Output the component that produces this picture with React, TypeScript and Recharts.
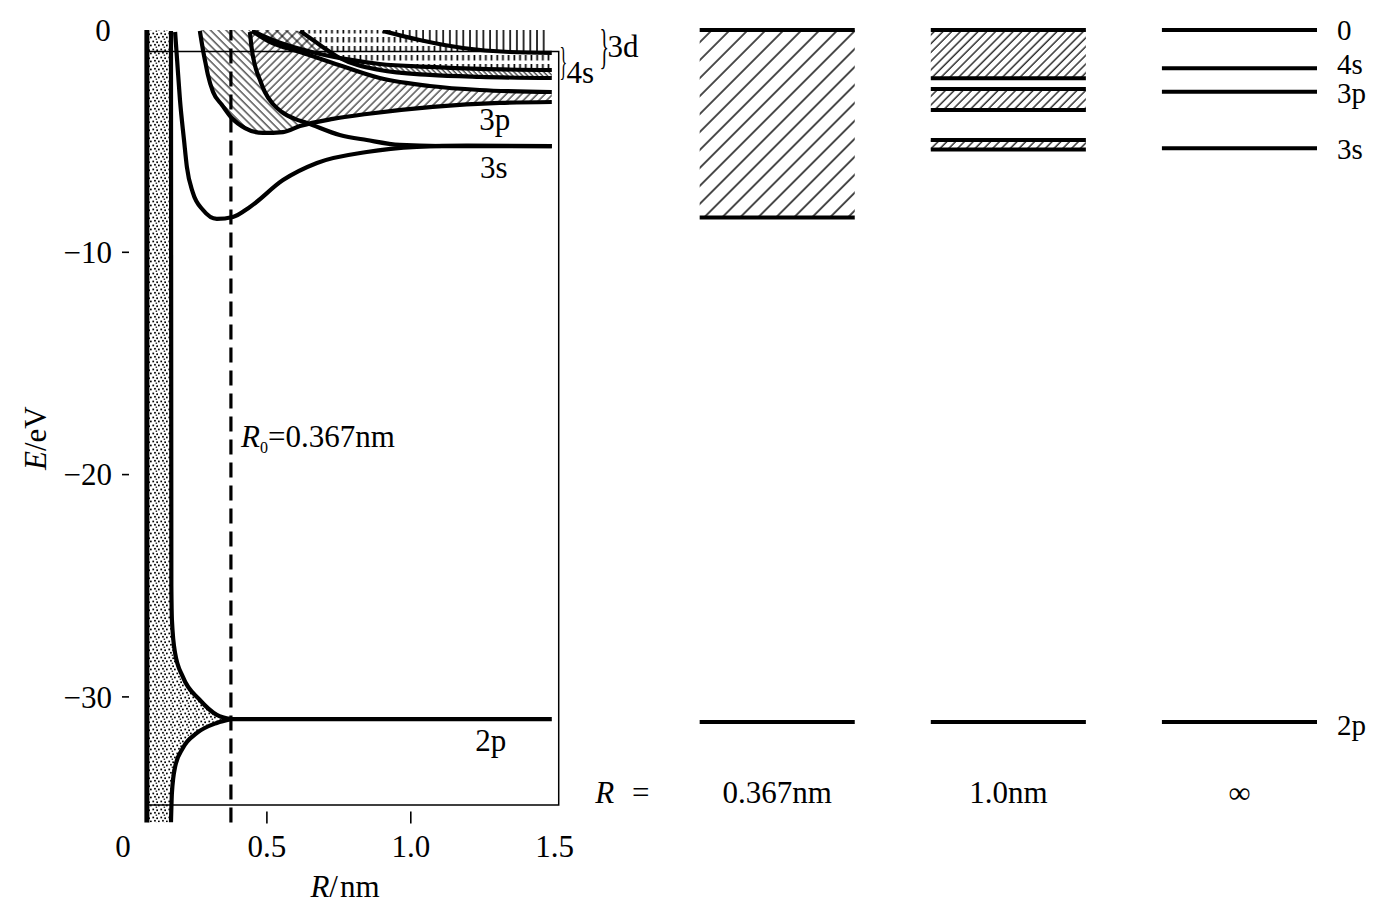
import React from "react";
import {
  ComposedChart,
  Line,
  Area,
  XAxis,
  YAxis,
  ReferenceLine,
  ReferenceArea,
  ReferenceDot,
  Label,
} from "recharts";

const FONT = '"Liberation Serif", "Times New Roman", serif';
const FS = 31;

// shared energy axis (eV)
const E_MIN = -35.65;
const E_MAX = 0;
const E_TICKS = [0, -10, -20, -30];

// left panel, R in nm
const R_TICKS = [0, 0.5, 1.0, 1.5];
const R_WALL = 0.083;
const R_BOX_END = 1.514;
const R0_DRAWN = 0.375; // dashed line, R0 = 0.367 nm
const BOX_TOP = -0.97;
const BOX_BOTTOM = -34.86;

// curves
const curve3s = [
  { R: 0.181, E: -0.09 }, { R: 0.188, E: -1.35 }, { R: 0.198, E: -3.15 },
  { R: 0.212, E: -4.95 }, { R: 0.222, E: -6.16 }, { R: 0.243, E: -7.33 },
  { R: 0.278, E: -8.1 }, { R: 0.326, E: -8.5 }, { R: 0.382, E: -8.41 },
  { R: 0.441, E: -7.96 }, { R: 0.556, E: -6.75 }, { R: 0.674, E: -5.98 },
  { R: 0.847, E: -5.49 }, { R: 1.021, E: -5.26 }, { R: 1.194, E: -5.2 },
  { R: 1.49, E: -5.22 },
];
const curve3sStar = [
  { R: 0.441, E: -0.09 }, { R: 0.448, E: -0.9 }, { R: 0.458, E: -1.57 },
  { R: 0.476, E: -2.25 }, { R: 0.493, E: -2.79 }, { R: 0.521, E: -3.33 },
  { R: 0.552, E: -3.69 }, { R: 0.597, E: -4.0 }, { R: 0.639, E: -4.18 },
  { R: 0.753, E: -4.72 }, { R: 0.847, E: -4.95 }, { R: 0.962, E: -5.17 },
  { R: 1.101, E: -5.22 }, { R: 1.49, E: -5.22 },
];
const curve3pLow = [
  { R: 0.267, E: -0.04 }, { R: 0.278, E: -0.9 }, { R: 0.288, E: -1.57 },
  { R: 0.295, E: -2.02 }, { R: 0.313, E: -2.79 }, { R: 0.344, E: -3.37 },
  { R: 0.378, E: -3.96 }, { R: 0.424, E: -4.41 }, { R: 0.486, E: -4.63 },
  { R: 0.556, E: -4.59 }, { R: 0.615, E: -4.32 }, { R: 0.729, E: -4.0 },
  { R: 0.847, E: -3.78 }, { R: 1.076, E: -3.46 }, { R: 1.309, E: -3.28 },
  { R: 1.49, E: -3.24 },
];
const curve3pUp = [
  { R: 0.448, E: -0.04 }, { R: 0.51, E: -0.54 }, { R: 0.615, E: -0.99 },
  { R: 0.729, E: -1.48 }, { R: 0.892, E: -2.16 }, { R: 1.066, E: -2.52 },
  { R: 1.24, E: -2.7 }, { R: 1.49, E: -2.79 },
];
const curve4sA = [
  { R: 0.448, E: -0.04 }, { R: 0.538, E: -0.54 }, { R: 0.656, E: -0.99 },
  { R: 0.771, E: -1.3 }, { R: 0.892, E: -1.53 }, { R: 1.066, E: -1.66 },
  { R: 1.24, E: -1.75 }, { R: 1.49, E: -1.8 },
];
const curve4sB = [
  { R: 0.615, E: -0.04 }, { R: 0.684, E: -0.67 }, { R: 0.753, E: -1.26 },
  { R: 0.892, E: -1.8 }, { R: 1.066, E: -2.02 }, { R: 1.24, E: -2.11 },
  { R: 1.49, E: -2.16 },
];
const curve3d = [
  { R: 0.903, E: -0.04 }, { R: 1.031, E: -0.45 }, { R: 1.181, E: -0.81 },
  { R: 1.344, E: -0.99 }, { R: 1.49, E: -1.03 },
];
const curve2pUp = [
  { R: 0.1667, E: -0.04 }, { R: 0.168, E: -25.0 }, { R: 0.17, E: -26.54 },
  { R: 0.181, E: -28.03 }, { R: 0.208, E: -29.1 }, { R: 0.267, E: -30.14 },
  { R: 0.326, E: -30.81 }, { R: 0.375, E: -31.0 },
];
const curve2pLow = [
  { R: 0.1667, E: -35.65 }, { R: 0.17, E: -34.32 }, { R: 0.181, E: -33.15 },
  { R: 0.208, E: -32.3 }, { R: 0.257, E: -31.62 }, { R: 0.326, E: -31.17 },
  { R: 0.375, E: -31.0 },
];
const curve2pFlat = [{ R: 0.375, E: -31.0 }, { R: 1.49, E: -31.0 }];

// shaded bands [low, high]
const bandCore = [
  { R: 0.083, band: [-35.65, 0] }, { R: 0.1667, band: [-35.65, 0] },
  { R: 0.168, band: [-35.0, -25.0] }, { R: 0.17, band: [-34.32, -26.54] },
  { R: 0.181, band: [-33.15, -28.03] }, { R: 0.208, band: [-32.3, -29.1] },
  { R: 0.267, band: [-31.55, -30.14] }, { R: 0.326, band: [-31.17, -30.81] },
  { R: 0.375, band: [-31.0, -31.0] },
];
const bandBack = [
  { R: 0.267, band: [-0.04, 0] }, { R: 0.278, band: [-0.9, 0] },
  { R: 0.288, band: [-1.57, 0] }, { R: 0.295, band: [-2.02, 0] },
  { R: 0.313, band: [-2.79, 0] }, { R: 0.344, band: [-3.37, 0] },
  { R: 0.378, band: [-3.96, 0] }, { R: 0.424, band: [-4.41, 0] },
  { R: 0.441, band: [-4.5, 0] }, { R: 0.448, band: [-4.53, -0.9] },
  { R: 0.458, band: [-4.56, -1.57] }, { R: 0.476, band: [-4.6, -2.25] },
  { R: 0.493, band: [-4.63, -2.79] }, { R: 0.521, band: [-4.62, -3.33] },
  { R: 0.552, band: [-4.59, -3.69] }, { R: 0.597, band: [-4.42, -4.0] },
  { R: 0.627, band: [-4.22, -4.22] },
];
const band3p = [
  { R: 0.441, band: [-0.09, -0.04] }, { R: 0.448, band: [-0.9, -0.04] },
  { R: 0.458, band: [-1.57, -0.12] }, { R: 0.476, band: [-2.25, -0.26] },
  { R: 0.493, band: [-2.79, -0.4] }, { R: 0.51, band: [-3.1, -0.54] },
  { R: 0.552, band: [-3.69, -0.72] }, { R: 0.597, band: [-4.0, -0.92] },
  { R: 0.627, band: [-4.22, -1.03] }, { R: 0.674, band: [-4.12, -1.22] },
  { R: 0.729, band: [-4.0, -1.48] }, { R: 0.847, band: [-3.78, -1.97] },
  { R: 0.962, band: [-3.55, -2.3] }, { R: 1.076, band: [-3.46, -2.52] },
  { R: 1.24, band: [-3.32, -2.7] }, { R: 1.49, band: [-3.24, -2.79] },
];
const bandCross = [
  { R: 0.448, band: [-0.04, 0] }, { R: 0.538, band: [-0.54, 0] },
  { R: 0.615, band: [-0.84, -0.04] }, { R: 0.656, band: [-0.99, -0.42] },
  { R: 0.684, band: [-1.1, -0.67] }, { R: 0.72, band: [-1.2, -0.98] },
  { R: 0.753, band: [-1.28, -1.26] },
];
const bandDash = [
  { R: 0.615, band: [-0.04, 0] }, { R: 0.684, band: [-0.67, 0] },
  { R: 0.753, band: [-1.26, 0] }, { R: 0.771, band: [-1.3, 0] },
  { R: 0.892, band: [-1.53, 0] }, { R: 0.903, band: [-1.55, -0.04] },
  { R: 1.031, band: [-1.64, -0.45] }, { R: 1.181, band: [-1.72, -0.81] },
  { R: 1.344, band: [-1.78, -0.99] }, { R: 1.49, band: [-1.8, -1.03] },
];
const bandVert = [
  { R: 0.903, band: [-0.04, 0] }, { R: 1.031, band: [-0.45, 0] },
  { R: 1.181, band: [-0.81, 0] }, { R: 1.344, band: [-0.99, 0] },
  { R: 1.476, band: [-1.02, 0] },
];
const band4s = [
  { R: 0.753, band: [-1.28, -1.26] }, { R: 0.771, band: [-1.38, -1.3] },
  { R: 0.892, band: [-1.8, -1.53] }, { R: 1.066, band: [-2.02, -1.66] },
  { R: 1.24, band: [-2.11, -1.75] }, { R: 1.49, band: [-2.16, -1.8] },
];

// right panel: three separations
const COL_TICKS = [-0.333, 0.3355, 1.3355, 2.3355];
const COL_LABELS = ["R", "0.367nm", "1.0nm", "∞"];
const COL_W = 0.671;
const levelsR0 = [0, -8.43, -31.13];
const levelsR1 = [0, -2.17, -2.65, -3.6, -4.95, -5.37, -31.13];
const levelsInf = [0, -1.72, -2.78, -5.32, -31.13];
const levelNames = ["0", "4s", "3p", "3s", "2p"];
const levelNudge = [0, -4, 2, 1, 3];
const bandsR0 = [[-8.43, 0]];
const bandsR1 = [[-2.17, 0], [-3.6, -2.65], [-5.37, -4.95]];

const txt = { fontFamily: FONT, fontSize: FS, fill: "#000" } as const;

function RTick({ x, y, payload }: any) {
  const v = payload.value;
  const mark = v > 0 && v < 1.5;
  return (
    <g>
      {mark && <line x1={x} x2={x} y1={y - 11} y2={y + 1} stroke="#000" strokeWidth={1.6} />}
      <text x={x} y={y + 34} textAnchor="middle" {...txt}>
        {v === 0 ? "0" : v.toFixed(1)}
      </text>
    </g>
  );
}

function ETick({ x, y, payload }: any) {
  const v = payload.value;
  if (v === 0)
    return (
      <text x={x - 20} y={y} dy="0.35em" textAnchor="middle" {...txt}>
        0
      </text>
    );
  return (
    <g>
      <line x1={x - 1} x2={x + 6} y1={y} y2={y} stroke="#000" strokeWidth={1.6} />
      <text x={x - 11} y={y} dy="0.35em" textAnchor="end" {...txt}>
        {"\u2212" + Math.abs(v)}
      </text>
    </g>
  );
}

function LevelTick({ x, y, payload }: any) {
  const i = levelsInf.indexOf(payload.value);
  return (
    <text x={x + 20} y={y + levelNudge[i]} dy="0.33em" textAnchor="start" {...txt} fontSize={29}>
      {levelNames[i]}
    </text>
  );
}

function ColTick({ x, y, payload }: any) {
  const i = COL_TICKS.indexOf(payload.value);
  if (i === 0)
    return (
      <g>
        <text x={x - 18} y={y - 20} textAnchor="middle" {...txt} fontStyle="italic">
          {COL_LABELS[0]}
        </text>
        <text x={x + 18} y={y - 20} textAnchor="middle" {...txt}>
          =
        </text>
      </g>
    );
  return (
    <text x={x} y={y - 20} textAnchor="middle" {...txt}>
      {COL_LABELS[i]}
    </text>
  );
}

const centerText = (content: React.ReactNode) => (p: any) => {
  const vb = p.viewBox;
  return (
    <text x={vb.x + vb.width / 2} y={vb.y + vb.height / 2} dy="0.35em" textAnchor="middle" {...txt}>
      {content}
    </text>
  );
};

const r0Label = (p: any) => {
  const vb = p.viewBox;
  const x = vb.x + vb.width / 2;
  const y = vb.y + vb.height / 2 + 10;
  return (
    <text x={x} y={y} textAnchor="start" {...txt}>
      <tspan fontStyle="italic">R</tspan>
      <tspan fontSize={16} dy={6}>0</tspan>
      <tspan dy={-6}>=0.367nm</tspan>
    </text>
  );
};

const braceLabel = (name: string, size: number, tx: number, ty: number) => (p: any) => {
  const vb = p.viewBox;
  const x = vb.x + vb.width / 2;
  const y = vb.y + vb.height / 2;
  return (
    <g>
      <text transform={`translate(${x},${y}) scale(0.4,1)`} fontFamily={FONT} fontSize={size} fill="#000">
        {"}"}
      </text>
      <text x={x + tx} y={y + ty} {...txt}>
        {name}
      </text>
    </g>
  );
};

const hatch = (id: string, gap: number, angle: number, w = 1.1) => (
  <pattern id={id} width={gap} height={gap} patternUnits="userSpaceOnUse" patternTransform={`rotate(${angle})`}>
    <line x1={1} y1={0} x2={1} y2={gap} stroke="#000" strokeWidth={w} />
  </pattern>
);

function LeftPanel() {
  const lineProps = {
    type: "monotone" as const,
    dataKey: "E",
    stroke: "#000",
    strokeWidth: 4.2,
    dot: false,
    activeDot: false,
    isAnimationActive: false,
    legendType: "none" as const,
  };
  const areaProps = {
    type: "monotone" as const,
    dataKey: "band",
    stroke: "none",
    fillOpacity: 1,
    dot: false,
    activeDot: false,
    isAnimationActive: false,
  };
  return (
    <ComposedChart width={680} height={909} margin={{ top: 30, right: 121, bottom: 26.5, left: 10 }}>
      <defs>
        <pattern id="stipple" width="8" height="8" patternUnits="userSpaceOnUse">
          <rect x="0.4" y="0.6" width="1.7" height="1.7" fill="#000" />
          <rect x="4.3" y="1.4" width="1.7" height="1.7" fill="#000" />
          <rect x="2.1" y="3.9" width="1.7" height="1.7" fill="#000" />
          <rect x="6.0" y="4.6" width="1.7" height="1.7" fill="#000" />
          <rect x="3.6" y="6.6" width="1.5" height="1.2" fill="#000" />
        </pattern>
        {hatch("hatchFwd", 5.5, 45, 1)}
        {hatch("hatchBack", 5.5, -45, 1)}
        {hatch("hatch4s", 3.5, -45, 1)}
        <pattern id="cross" width="7" height="7" patternUnits="userSpaceOnUse" patternTransform="rotate(45)">
          <line x1={1} y1={0} x2={1} y2={7} stroke="#000" strokeWidth={1.1} />
          <line x1={0} y1={1} x2={7} y2={1} stroke="#000" strokeWidth={1.1} />
        </pattern>
        <pattern id="vlines" width="6.7" height="10" patternUnits="userSpaceOnUse">
          <line x1={1} y1={0} x2={1} y2={10} stroke="#000" strokeWidth={1.6} />
        </pattern>
        <pattern id="vdash" width="5.7" height="9" patternUnits="userSpaceOnUse">
          <rect x={0.5} y={1} width={1.7} height={5.5} fill="#000" />
        </pattern>
      </defs>
      <XAxis
        type="number"
        dataKey="R"
        domain={[0, 1.515]}
        ticks={R_TICKS}
        interval={0}
        allowDataOverflow
        axisLine={false}
        tickLine={false}
        tickSize={0}
        tickMargin={0}
        height={60}
        tick={<RTick />}
      >
        <Label
          content={(p: any) => {
            const vb = p.viewBox;
            return (
              <text x={vb.x + vb.width / 2 + 4} y={vb.y + 74} textAnchor="middle" {...txt}>
                <tspan fontStyle="italic">R</tspan>
                <tspan>/</tspan>
                <tspan dx={2}>nm</tspan>
              </text>
            );
          }}
        />
      </XAxis>
      <YAxis
        type="number"
        domain={[E_MIN, E_MAX]}
        ticks={E_TICKS}
        interval={0}
        allowDataOverflow
        axisLine={false}
        tickLine={false}
        tickSize={0}
        tickMargin={0}
        width={113}
        tick={<ETick />}
      >
        <Label
          content={(p: any) => {
            const vb = p.viewBox;
            const cx = vb.x + 25;
            const cy = vb.y + vb.height * 0.515;
            return (
              <text x={cx} y={cy} dy="0.35em" textAnchor="middle" transform={`rotate(-90 ${cx} ${cy})`} {...txt}>
                <tspan fontStyle="italic">E</tspan>
                <tspan>/eV</tspan>
              </text>
            );
          }}
        />
      </YAxis>

      <Area {...areaProps} data={bandCore} fill="url(#stipple)" />
      <Area {...areaProps} data={bandBack} fill="url(#hatchBack)" />
      <Area {...areaProps} data={band3p} fill="url(#hatchFwd)" />
      <Area {...areaProps} data={bandCross} fill="url(#cross)" />
      <Area {...areaProps} data={bandDash} fill="url(#vdash)" />
      <Area {...areaProps} data={bandVert} fill="url(#vlines)" />
      <Area {...areaProps} data={band4s} fill="url(#hatch4s)" />

      <ReferenceArea
        x1={R_WALL}
        x2={R_BOX_END}
        y1={BOX_BOTTOM}
        y2={BOX_TOP}
        fill="none"
        fillOpacity={0}
        stroke="#000"
        strokeWidth={1.5}
        ifOverflow="visible"
      />
      <ReferenceLine x={R_WALL} stroke="#000" strokeWidth={5} ifOverflow="visible" />
      <ReferenceLine x={R0_DRAWN} stroke="#000" strokeWidth={3.2} strokeDasharray="15 8" />

      <Line {...lineProps} data={curve2pUp} />
      <Line {...lineProps} data={curve2pLow} />
      <Line {...lineProps} data={curve2pFlat} />
      <Line {...lineProps} data={curve3s} />
      <Line {...lineProps} data={curve3sStar} />
      <Line {...lineProps} data={curve3pLow} />
      <Line {...lineProps} data={curve3pUp} />
      <Line {...lineProps} data={curve4sA} />
      <Line {...lineProps} data={curve4sB} />
      <Line {...lineProps} data={curve3d} />

      <ReferenceDot x={1.292} y={-4.0} r={1} fill="none" stroke="none" label={centerText("3p")} />
      <ReferenceDot x={1.288} y={-6.16} r={1} fill="none" stroke="none" label={centerText("3s")} />
      <ReferenceDot x={1.278} y={-31.94} r={1} fill="none" stroke="none" label={centerText("2p")} />
      <ReferenceDot x={0.41} y={-18.31} r={1} fill="none" stroke="none" label={r0Label} />
      <ReferenceDot
        x={1.517}
        y={-2.01}
        r={1}
        fill="none"
        stroke="none"
        ifOverflow="visible"
        label={braceLabel("4s", 40, 7, 8)}
      />
      <ReferenceDot
        x={1.656}
        y={-1.48}
        r={1}
        fill="none"
        stroke="none"
        ifOverflow="visible"
        label={braceLabel("3d", 49, 8, -6)}
      />
    </ComposedChart>
  );
}

function RightPanel() {
  const cols = [levelsR0, levelsR1, levelsInf];
  const bands = [bandsR0, bandsR1, []];
  const fills = ["url(#hatchWide)", "url(#hatchMid)", "none"];
  return (
    <ComposedChart width={820} height={909} margin={{ top: 30, right: 0, bottom: 26.5, left: 0 }}>
      <defs>
        {hatch("hatchWide", 12.7, 45, 1.4)}
        {hatch("hatchMid", 6.2, 45, 1.2)}
      </defs>
      <XAxis
        type="number"
        dataKey="x"
        domain={[-0.6, 2.671]}
        ticks={COL_TICKS}
        interval={0}
        allowDataOverflow
        axisLine={false}
        tickLine={false}
        tickSize={0}
        tickMargin={0}
        height={60}
        tick={<ColTick />}
      />
      <YAxis
        orientation="right"
        type="number"
        domain={[E_MIN, E_MAX]}
        ticks={levelsInf}
        interval={0}
        allowDataOverflow
        axisLine={false}
        tickLine={false}
        tickSize={0}
        tickMargin={0}
        width={64}
        tick={<LevelTick />}
      />
      {bands.map((bs, k) =>
        bs.map((b, j) => (
          <ReferenceArea
            key={`b${k}-${j}`}
            x1={k}
            x2={k + COL_W}
            y1={b[0]}
            y2={b[1]}
            fill={fills[k]}
            fillOpacity={1}
            stroke="none"
          />
        ))
      )}
      {cols.map((lv, k) =>
        lv.map((e, j) => (
          <ReferenceLine
            key={`l${k}-${j}`}
            segment={[
              { x: k, y: e },
              { x: k + COL_W, y: e },
            ]}
            stroke="#000"
            strokeWidth={4}
            ifOverflow="visible"
          />
        ))
      )}
    </ComposedChart>
  );
}

export default function App() {
  return (
    <div style={{ position: "absolute", left: 0, top: 0, width: 1381, height: 909, background: "#fff" }}>
      <div style={{ position: "absolute", left: 0, top: 0 }}>
        <LeftPanel />
      </div>
      <div style={{ position: "absolute", left: 561, top: 0 }}>
        <RightPanel />
      </div>
    </div>
  );
}
